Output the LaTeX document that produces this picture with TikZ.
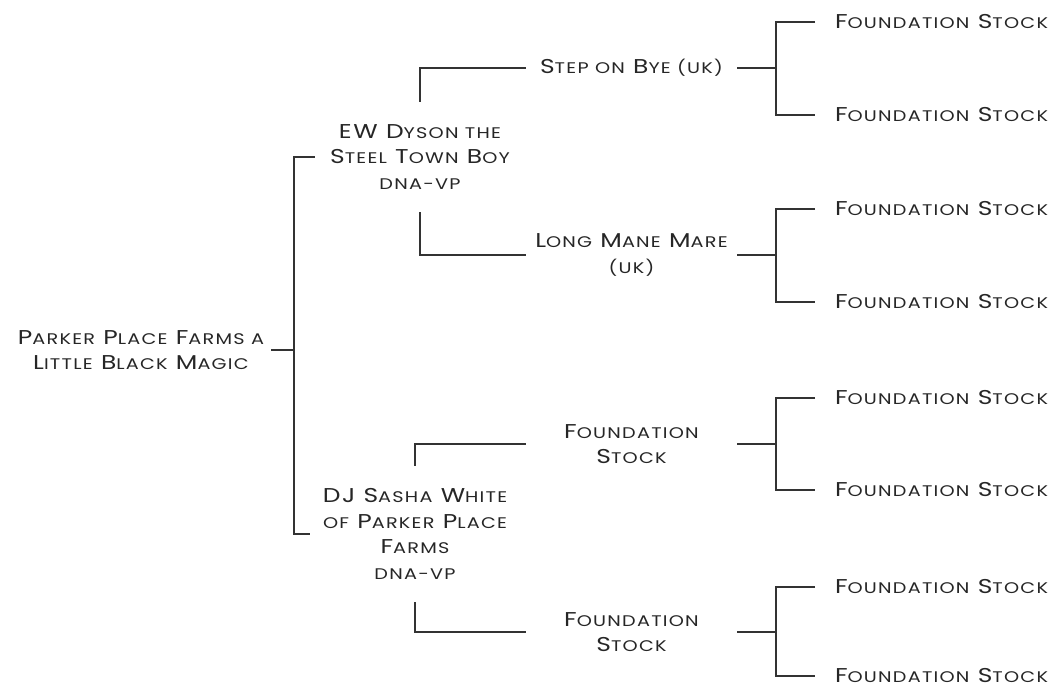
\documentclass[tikz,border=0pt]{standalone}
\usepackage{fontspec}
\setmainfont[FakeStretch=1.25,LetterSpace=8]{Poppins}
% petites capitales simulees
\newcommand{\pc}[1]{{\fontsize{15.4}{25.5}\selectfont\MakeUppercase{#1}}}
\begin{document}
\begin{tikzpicture}[x=1pt,y=-1pt,
  every node/.style={text=black!85, font=\fontsize{20}{25.5}\selectfont, align=center},
  ligne/.style={draw=black!80, line width=1.2pt},
  racine/.style={inner xsep=7pt},
  parent/.style={minimum width=210pt, inner sep=0pt, outer ysep=23pt},
  grandparent/.style={minimum width=211pt, inner sep=0pt},
  souche/.style={anchor=west, inner sep=0pt, outer xsep=20pt}]
  \useasboundingbox (0,0) rectangle (1053,688);

  % Le cheval
  \node[racine] (root) at (141,350) {P\pc{arker} P\pc{lace} F\pc{arms a}\\L\pc{ittle} B\pc{lack} M\pc{agic}};

  % Les parents
  \node[parent] (sire) at (420,157) {EW D\pc{yson the}\\S\pc{teel} T\pc{own} B\pc{oy}\\\pc{dna-vp}};
  \node[parent] (dam) at (415,534) {DJ S\pc{asha} W\pc{hite}\\\pc{of} P\pc{arker} P\pc{lace}\\F\pc{arms}\\\pc{dna-vp}};

  % Les grands-parents
  \node[grandparent] (ss) at (631.5,68) {S\pc{tep on} B\pc{ye (uk)}};
  \node[grandparent] (sd) at (631.5,255) {L\pc{ong} M\pc{ane} M\pc{are}\\\pc{(uk)}};
  \node[grandparent] (ds) at (631.5,444) {F\pc{oundation}\\S\pc{tock}};
  \node[grandparent] (dd) at (631.5,632) {F\pc{oundation}\\S\pc{tock}};

  % Les arriere-grands-parents
  \node[souche] (sss) at (815,22) {F\pc{oundation} S\pc{tock}};
  \node[souche] (ssd) at (815,115) {F\pc{oundation} S\pc{tock}};
  \node[souche] (sds) at (815,209) {F\pc{oundation} S\pc{tock}};
  \node[souche] (sdd) at (815,302) {F\pc{oundation} S\pc{tock}};
  \node[souche] (dss) at (815,398) {F\pc{oundation} S\pc{tock}};
  \node[souche] (dsd) at (815,490) {F\pc{oundation} S\pc{tock}};
  \node[souche] (dds) at (815,587) {F\pc{oundation} S\pc{tock}};
  \node[souche] (ddd) at (815,676) {F\pc{oundation} S\pc{tock}};

  % Les accolades
  \coordinate (b) at (294,350);
  \coordinate (bss) at (776,68);
  \coordinate (bsd) at (776,255);
  \coordinate (bds) at (776,444);
  \coordinate (bdd) at (776,632);

  \draw[ligne] (root.east) -- (b);
  \draw[ligne] (sire.west) -| (b) |- (dam.west);
  \draw[ligne] (sire.north) |- (ss.west);
  \draw[ligne] (sire.south) |- (sd.west);
  \draw[ligne] (dam.north) |- (ds.west);
  \draw[ligne] (dam.south) |- (dd.west);

  \draw[ligne] (ss.east) -- (bss);
  \draw[ligne] (sss.west) -| (bss) |- (ssd.west);
  \draw[ligne] (sd.east) -- (bsd);
  \draw[ligne] (sds.west) -| (bsd) |- (sdd.west);
  \draw[ligne] (ds.east) -- (bds);
  \draw[ligne] (dss.west) -| (bds) |- (dsd.west);
  \draw[ligne] (dd.east) -- (bdd);
  \draw[ligne] (dds.west) -| (bdd) |- (ddd.west);
\end{tikzpicture}
\end{document}
